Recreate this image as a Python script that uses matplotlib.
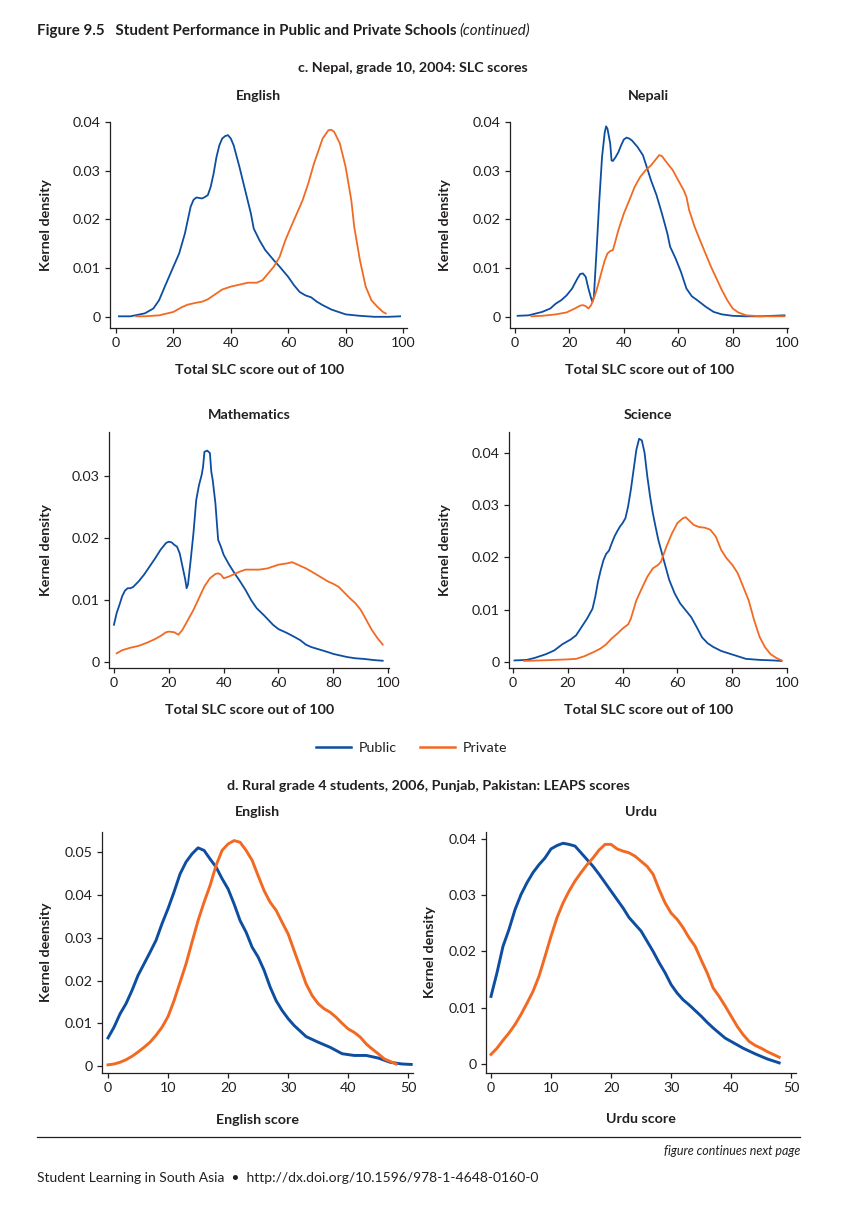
import matplotlib
matplotlib.use("Agg")
import matplotlib.pyplot as plt
from matplotlib.lines import Line2D

# ---------------------------------------------------------------------------
# data (kernel density curves)
# ---------------------------------------------------------------------------

# c. Nepal, English
NP_ENG_PUB_X = [1, 5, 10, 13, 15, 17, 20, 22, 24, 26, 27, 28, 30, 31, 32, 33, 34, 35, 36, 37,
                38, 39, 40, 41, 43, 45, 47, 48, 50, 52, 55, 57, 60, 62, 64, 66, 68, 70, 72,
                75, 80, 85, 90, 95, 99]
NP_ENG_PUB_Y = [0.0001, 0.0001, 0.0007, 0.0017, 0.0034, 0.0062, 0.0103, 0.0130, 0.0171, 0.0226,
                0.0240, 0.0245, 0.0243, 0.0246, 0.0250, 0.0267, 0.0294, 0.0328, 0.0352, 0.0366,
                0.0371, 0.0373, 0.0366, 0.0352, 0.0308, 0.0260, 0.0212, 0.0181, 0.0157, 0.0137,
                0.0116, 0.0103, 0.0082, 0.0065, 0.0051, 0.0044, 0.0040, 0.0031, 0.0024,
                0.0015, 0.0005, 0.0002, 0.0, 0.0, 0.0001]
NP_ENG_PRV_X = [7, 10, 15, 20, 23, 25, 28, 30, 32, 35, 37, 40, 43, 46, 49, 51, 53, 55, 57, 59,
                61, 63, 65, 67, 69, 71, 72, 74, 75, 76, 78, 80, 82, 83, 85, 87, 89, 91, 93, 94]
NP_ENG_PRV_Y = [0.0001, 0.0001, 0.0003, 0.0010, 0.0020, 0.0025, 0.0029, 0.0031, 0.0036, 0.0048,
                0.0056, 0.0062, 0.0066, 0.0070, 0.0070, 0.0075, 0.0089, 0.0103, 0.0123, 0.0157,
                0.0185, 0.0212, 0.0239, 0.0274, 0.0315, 0.0349, 0.0366, 0.0383, 0.0384, 0.0380,
                0.0356, 0.0308, 0.0239, 0.0185, 0.0116, 0.0062, 0.0034, 0.0021, 0.0010, 0.0007]

# c. Nepal, Nepali
NP_NEP_PUB_X = [1, 5, 10, 13, 15, 17, 19, 21, 23, 24, 25, 26, 27, 28, 28.5, 29, 30, 31, 32, 33,
                33.5, 34, 35, 35.5, 36, 37, 38, 39, 40, 41, 42, 43, 45, 47, 48, 50, 52, 54, 56,
                57, 59, 61, 63, 65, 67, 70, 73, 76, 80, 85, 90, 99]
NP_NEP_PUB_Y = [0.0002, 0.0003, 0.0010, 0.0017, 0.0027, 0.0034, 0.0044, 0.0058, 0.0079, 0.0088,
                0.0089, 0.0082, 0.0058, 0.0038, 0.0031, 0.0041, 0.0137, 0.0239, 0.0328, 0.0379,
                0.0391, 0.0386, 0.0356, 0.0321, 0.0320, 0.0328, 0.0338, 0.0352, 0.0364, 0.0368,
                0.0366, 0.0362, 0.0349, 0.0332, 0.0315, 0.0280, 0.0250, 0.0212, 0.0171,
                0.0144, 0.0120, 0.0092, 0.0058, 0.0042, 0.0034, 0.0021, 0.0010, 0.0005, 0.0002,
                0.0001, 0.0001, 0.0003]
NP_NEP_PRV_X = [6, 10, 15, 19, 22, 24, 25, 26, 27, 28, 29, 30, 31, 32, 33, 34, 35, 36, 37, 38,
                40, 42, 44, 46, 48, 50, 52, 53, 54, 56, 58, 60, 62, 63, 64, 66, 68, 70, 72, 74,
                76, 78, 80, 82, 85, 90, 95, 99]
NP_NEP_PRV_Y = [0.0001, 0.0002, 0.0005, 0.0009, 0.0017, 0.0023, 0.0024, 0.0022, 0.0017, 0.0024,
                0.0038, 0.0055, 0.0075, 0.0096, 0.0116, 0.0130, 0.0135, 0.0137, 0.0157, 0.0178,
                0.0212, 0.0239, 0.0267, 0.0287, 0.0301, 0.0311, 0.0325, 0.0332, 0.0330, 0.0315,
                0.0301, 0.0280, 0.0260, 0.0246, 0.0219, 0.0185, 0.0157, 0.0130, 0.0103, 0.0079,
                0.0055, 0.0034, 0.0017, 0.0009, 0.0003, 0.0001, 0.0001, 0.0001]

# c. Nepal, Mathematics
NP_MAT_PUB_X = [0, 1, 2, 3, 4, 5, 6, 7, 9, 11, 13, 15, 17, 19, 20, 21, 22, 23, 24, 25, 26, 26.5,
                27, 28, 29, 30, 31, 32, 32.5, 33, 34, 35, 35.5, 36, 37, 38, 39, 40, 42, 44, 46,
                48, 50, 52, 55, 58, 60, 63, 66, 68, 70, 72, 75, 78, 80, 83, 85, 88, 91, 95, 98]
NP_MAT_PUB_Y = [0.0060, 0.0079, 0.0092, 0.0106, 0.0115, 0.0119, 0.0119, 0.0121, 0.0130, 0.0141,
                0.0154, 0.0167, 0.0181, 0.0192, 0.0194, 0.0193, 0.0189, 0.0186, 0.0175, 0.0154,
                0.0133, 0.0119, 0.0125, 0.0165, 0.0208, 0.0261, 0.0285, 0.0302, 0.0315, 0.0339,
                0.0341, 0.0337, 0.0307, 0.0294, 0.0256, 0.0197, 0.0186, 0.0173, 0.0157, 0.0143,
                0.0130, 0.0116, 0.0100, 0.0087, 0.0074, 0.0060, 0.0053, 0.0047, 0.0040, 0.0035,
                0.0028, 0.0024, 0.0020, 0.0016, 0.0013, 0.0010, 0.0008, 0.0006, 0.0005, 0.0003,
                0.0002]
NP_MAT_PRV_X = [1, 3, 6, 9, 12, 15, 17, 19, 20, 22, 23.5, 25, 27, 29, 31, 33, 35, 37, 38, 39, 40,
                42, 44, 46, 48, 50, 53, 56, 58, 60, 63, 65, 66, 68, 70, 72, 75, 78, 80, 82, 84,
                86, 88, 90, 92, 94, 96, 98]
NP_MAT_PRV_Y = [0.0014, 0.0019, 0.0023, 0.0026, 0.0031, 0.0037, 0.0042, 0.0048, 0.0049, 0.0048,
                0.0044, 0.0052, 0.0068, 0.0084, 0.0103, 0.0122, 0.0135, 0.0142, 0.0143, 0.0141,
                0.0135, 0.0138, 0.0142, 0.0146, 0.0149, 0.0149, 0.0149, 0.0151, 0.0154, 0.0157,
                0.0159, 0.0161, 0.0159, 0.0155, 0.0151, 0.0146, 0.0138, 0.0130, 0.0126, 0.0121,
                0.0112, 0.0103, 0.0095, 0.0084, 0.0068, 0.0052, 0.0039, 0.0028]

# c. Nepal, Science
NP_SCI_PUB_X = [0.5, 5, 8, 12, 15, 18, 21, 23, 25, 27, 29, 30, 31, 32, 33, 34, 35, 36, 37, 38,
                39, 40, 41, 42, 43, 44, 45, 46, 47, 48, 49, 50, 51, 52, 53, 55, 57, 59, 61, 63,
                65, 67, 69, 71, 73, 76, 79, 82, 85, 90, 95, 98]
NP_SCI_PUB_Y = [0.0003, 0.0004, 0.0008, 0.0015, 0.0022, 0.0034, 0.0043, 0.0051, 0.0067, 0.0083,
                0.0102, 0.0125, 0.0154, 0.0176, 0.0195, 0.0207, 0.0213, 0.0227, 0.0240, 0.0250,
                0.0259, 0.0266, 0.0275, 0.0298, 0.0330, 0.0368, 0.0406, 0.0427, 0.0424, 0.0400,
                0.0355, 0.0317, 0.0285, 0.0259, 0.0234, 0.0195, 0.0157, 0.0131, 0.0112, 0.0099,
                0.0086, 0.0067, 0.0047, 0.0036, 0.0029, 0.0021, 0.0016, 0.0011, 0.0006, 0.0004,
                0.0003, 0.0002]
NP_SCI_PRV_X = [4, 10, 15, 20, 23, 26, 29, 32, 34, 36, 38, 40, 42, 43, 45, 47, 49, 51, 53, 54,
                56, 58, 60, 62, 63, 64, 66, 68, 70, 72, 74, 76, 78, 80, 82, 84, 86, 88, 90, 92,
                94, 96, 98]
NP_SCI_PRV_Y = [0.0002, 0.0003, 0.0004, 0.0005, 0.0006, 0.0011, 0.0018, 0.0026, 0.0034, 0.0045,
                0.0054, 0.0064, 0.0072, 0.0083, 0.0118, 0.0141, 0.0163, 0.0179, 0.0186, 0.0192,
                0.0221, 0.0246, 0.0266, 0.0275, 0.0277, 0.0272, 0.0262, 0.0258, 0.0257, 0.0253,
                0.0240, 0.0214, 0.0198, 0.0186, 0.0170, 0.0144, 0.0118, 0.0080, 0.0048, 0.0028,
                0.0015, 0.0008, 0.0003]

# d. Punjab, English
PK_ENG_PUB_X = [0, 1, 2, 3, 4, 5, 6, 7, 8, 9, 10, 11, 12, 13, 14, 15, 16, 17, 18, 19, 20, 21, 22,
                23, 24, 25, 26, 27, 28, 29, 30, 31, 32, 33, 35, 37, 39, 41, 43, 45, 47, 49, 50.5]
PK_ENG_PUB_Y = [0.0066, 0.0091, 0.0122, 0.0146, 0.0177, 0.0212, 0.0239, 0.0266, 0.0294, 0.0333,
                0.0368, 0.0407, 0.0449, 0.0477, 0.0496, 0.0510, 0.0504, 0.0484, 0.0465, 0.0438,
                0.0414, 0.0379, 0.0340, 0.0313, 0.0278, 0.0255, 0.0224, 0.0185, 0.0153, 0.0130,
                0.0111, 0.0095, 0.0082, 0.0069, 0.0056, 0.0044, 0.0029, 0.0025, 0.0025, 0.0019,
                0.0009, 0.0005, 0.0004]
PK_ENG_PRV_X = list(range(0, 49))
PK_ENG_PRV_Y = [0.0003, 0.0005, 0.0009, 0.0015, 0.0023, 0.0033, 0.0044, 0.0056, 0.0072, 0.0091,
                0.0116, 0.0153, 0.0196, 0.0239, 0.0290, 0.0340, 0.0383, 0.0422, 0.0469, 0.0504,
                0.0519, 0.0527, 0.0523, 0.0504, 0.0481, 0.0445, 0.0410, 0.0383, 0.0364, 0.0336,
                0.0309, 0.0270, 0.0231, 0.0192, 0.0165, 0.0146, 0.0134, 0.0126, 0.0114, 0.0100,
                0.0087, 0.0079, 0.0068, 0.0052, 0.0040, 0.0029, 0.0017, 0.0011, 0.0005]

# d. Punjab, Urdu
PK_URD_PUB_X = list(range(0, 41)) + [42, 44, 46, 48]
PK_URD_PUB_Y = [0.0120, 0.0162, 0.0209, 0.0239, 0.0274, 0.0301, 0.0322, 0.0340, 0.0354, 0.0366,
                0.0382, 0.0388, 0.0392, 0.0390, 0.0387, 0.0375, 0.0363, 0.0351, 0.0337, 0.0322,
                0.0307, 0.0292, 0.0277, 0.0260, 0.0248, 0.0236, 0.0218, 0.0200, 0.0180, 0.0162,
                0.0141, 0.0126, 0.0114, 0.0105, 0.0095, 0.0085, 0.0074, 0.0064, 0.0055, 0.0046,
                0.0040, 0.0028, 0.0018, 0.0009, 0.0002]
PK_URD_PRV_X = list(range(0, 49))
PK_URD_PRV_Y = [0.0017, 0.0028, 0.0042, 0.0055, 0.0070, 0.0088, 0.0108, 0.0129, 0.0156, 0.0191,
                0.0227, 0.0260, 0.0286, 0.0307, 0.0325, 0.0340, 0.0354, 0.0366, 0.0380, 0.0390,
                0.0390, 0.0382, 0.0378, 0.0375, 0.0369, 0.0360, 0.0351, 0.0337, 0.0310, 0.0286,
                0.0268, 0.0257, 0.0242, 0.0224, 0.0209, 0.0185, 0.0162, 0.0135, 0.0120, 0.0103,
                0.0085, 0.0067, 0.0052, 0.0040, 0.0033, 0.0028, 0.0022, 0.0017, 0.0012]

SERIES_LABELS = ["Public", "Private"]

COL_PUB = "#0d4ea1"
COL_PRV = "#f26a22"
TXT = "#231f20"

W, H = 856, 1216
FS = 10.3

plt.rcParams.update({
    "font.family": ["Lato", "DejaVu Sans"],
    "font.size": FS,
    "text.color": TXT,
    "axes.edgecolor": TXT,
    "xtick.color": TXT,
    "ytick.color": TXT,
    "axes.linewidth": 0.9,
    "xtick.major.size": 3.5,
    "ytick.major.size": 3.5,
    "xtick.major.width": 0.9,
    "ytick.major.width": 0.9,
})


def fx(x):
    return x / W


def fy(y):
    return 1 - y / H


def make_axes(fig, left, top, right, bottom):
    ax = fig.add_axes([fx(left), fy(bottom), (right - left) / W, (bottom - top) / H])
    ax.spines["top"].set_visible(False)
    ax.spines["right"].set_visible(False)
    ax.tick_params(labelsize=FS, pad=3)
    ax.yaxis.set_major_formatter(plt.FormatStrFormatter("%g"))
    ax.patch.set_alpha(0)
    return ax


def draw(ax, pub, prv, lw):
    ax.plot(pub[0], pub[1], color=COL_PUB, lw=lw, solid_joinstyle="round")
    ax.plot(prv[0], prv[1], color=COL_PRV, lw=lw, solid_joinstyle="round")


fig = plt.figure(figsize=(W / 100, H / 100), dpi=100)

# panel c
panels_c = [
    # (pixel box, xlim, ylim, yticks, public, private, title, title pos, ylabel x)
    ((110, 122, 407, 328), (-2.1, 101.4), (-0.0023, 0.0400), [0, 0.01, 0.02, 0.03, 0.04],
     (NP_ENG_PUB_X, NP_ENG_PUB_Y), (NP_ENG_PRV_X, NP_ENG_PRV_Y), "English", (258, 96), 46),
    ((510, 122, 788, 328), (-1.8, 100.3), (-0.0023, 0.0400), [0, 0.01, 0.02, 0.03, 0.04],
     (NP_NEP_PUB_X, NP_NEP_PUB_Y), (NP_NEP_PRV_X, NP_NEP_PRV_Y), "Nepali", (648, 96), 445),
    ((109, 432, 389, 668), (-1.8, 100.3), (-0.00097, 0.0371), [0, 0.01, 0.02, 0.03],
     (NP_MAT_PUB_X, NP_MAT_PUB_Y), (NP_MAT_PRV_X, NP_MAT_PRV_Y), "Mathematics", (249, 415), 46),
    ((509, 432, 787, 668), (-1.5, 100.0), (-0.00115, 0.0440), [0, 0.01, 0.02, 0.03, 0.04],
     (NP_SCI_PUB_X, NP_SCI_PUB_Y), (NP_SCI_PRV_X, NP_SCI_PRV_Y), "Science", (648, 415), 445),
]
for box, xl, yl, yt, pub, prv, title, tpos, ylx in panels_c:
    ax = make_axes(fig, *box)
    draw(ax, pub, prv, 1.3)
    ax.set_xlim(*xl)
    ax.set_ylim(*yl)
    ax.set_xticks([0, 20, 40, 60, 80, 100])
    ax.set_yticks(yt)
    fig.text(fx(tpos[0]), fy(tpos[1]), title, ha="center", va="center",
             fontsize=FS, fontweight="bold")
    fig.text(fx((box[0] + box[2]) / 2 + 1), fy(box[3] + 42), "Total SLC score out of 100",
             ha="center", va="center", fontsize=FS, fontweight="bold")
    fig.text(fx(ylx), fy((box[1] + box[3]) / 2), "Kernel density", rotation=90,
             ha="center", va="center", fontsize=FS, fontweight="bold")

# panel d
panels_d = [
    ((102, 832, 413, 1073), (-1.0, 50.8), (-0.0016, 0.0547), [0, 0.01, 0.02, 0.03, 0.04, 0.05],
     (PK_ENG_PUB_X, PK_ENG_PUB_Y), (PK_ENG_PRV_X, PK_ENG_PRV_Y), "English", (257, 812),
     "English score", (258, 1120), "Kernel deensity", 46),
    ((486, 832, 796, 1073), (-0.83, 50.8), (-0.0016, 0.0412), [0, 0.01, 0.02, 0.03, 0.04],
     (PK_URD_PUB_X, PK_URD_PUB_Y), (PK_URD_PRV_X, PK_URD_PRV_Y), "Urdu", (641, 812),
     "Urdu score", (641, 1119), "Kernel density", 430),
]
for box, xl, yl, yt, pub, prv, title, tpos, xlab, xpos, ylab, ylx in panels_d:
    ax = make_axes(fig, *box)
    draw(ax, pub, prv, 2.1)
    ax.set_xlim(*xl)
    ax.set_ylim(*yl)
    ax.set_xticks([0, 10, 20, 30, 40, 50])
    ax.set_yticks(yt)
    fig.text(fx(tpos[0]), fy(tpos[1]), title, ha="center", va="center",
             fontsize=FS, fontweight="bold")
    fig.text(fx(xpos[0]), fy(xpos[1]), xlab, ha="center", va="center",
             fontsize=FS, fontweight="bold")
    fig.text(fx(ylx), fy((box[1] + box[3]) / 2), ylab, rotation=90,
             ha="center", va="center", fontsize=FS, fontweight="bold")

# headings
t1 = fig.text(fx(37), fy(31), "Figure 9.5   Student Performance in Public and Private Schools",
              ha="left", va="center", fontsize=10.9, fontweight="bold")
fig.canvas.draw()
bb = t1.get_window_extent()
fig.text(fx(bb.x1 + 3), fy(31), "(continued)", ha="left", va="center",
         fontsize=10.9, style="italic")
fig.text(fx(413), fy(68), "c. Nepal, grade 10, 2004: SLC scores", ha="center", va="center",
         fontsize=FS, fontweight="bold")
fig.text(fx(428), fy(786), "d. Rural grade 4 students, 2006, Punjab, Pakistan: LEAPS scores",
         ha="center", va="center", fontsize=FS, fontweight="bold")

# legend
handles = [Line2D([], [], color=COL_PUB, lw=1.8), Line2D([], [], color=COL_PRV, lw=1.8)]
fig.legend(handles, SERIES_LABELS, loc="center", bbox_to_anchor=(fx(412), fy(748)), ncol=2,
           frameon=False, fontsize=FS, handlelength=2.4, handletextpad=0.6, columnspacing=1.6)

# footer
fig.add_artist(Line2D([fx(37), fx(800)], [fy(1137), fy(1137)], color=TXT, lw=0.9))
fig.text(fx(800), fy(1151), "figure continues next page", ha="right", va="center",
         fontsize=9, style="italic")
fig.text(fx(37), fy(1178), "Student Learning in South Asia  \u2022  http://dx.doi.org/10.1596/978-1-4648-0160-0",
         ha="left", va="center", fontsize=10)

fig.savefig("out.png", dpi=100)
